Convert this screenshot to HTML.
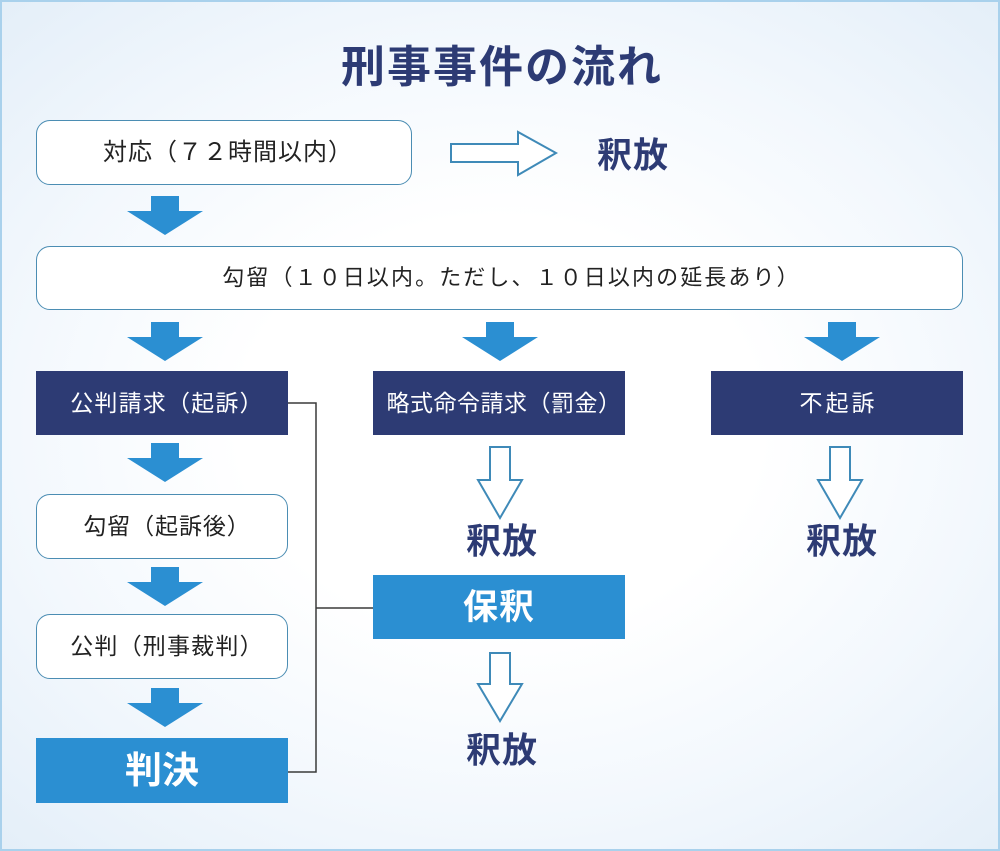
<!DOCTYPE html>
<html lang="ja">
<head>
<meta charset="utf-8">
<style>
html,body{margin:0;padding:0;}
body{width:1000px;height:851px;overflow:hidden;position:relative;font-family:"Liberation Sans","Noto Sans CJK JP",sans-serif;}
.frame{position:absolute;left:0;top:0;width:1000px;height:851px;box-sizing:border-box;border:2px solid #a9d1ec;
background:radial-gradient(ellipse 75% 70% at 50% 50%, #ffffff 35%, #f3f8fd 65%, #e3eef8 100%);}
.box{position:absolute;box-sizing:border-box;display:flex;align-items:center;justify-content:center;white-space:nowrap;line-height:1;}
.r{background:#fff;border:1.5px solid #4b8db3;border-radius:14px;color:#222;font-weight:400;}
.n{background:#2d3b74;color:#fff;font-weight:400;}
.b{background:#2b8fd2;color:#fff;font-weight:bold;}
.lbl{position:absolute;line-height:1;white-space:nowrap;font-weight:bold;color:#2d3b74;transform:translate(-50%,-50%);}
svg{position:absolute;left:0;top:0;}
</style>
</head>
<body>
<div class="frame"></div>

<div class="lbl" style="left:502px;top:68px;font-size:44px;letter-spacing:2px;">刑事事件の流れ</div>

<div class="box r" style="left:36px;top:120px;width:376px;height:65px;font-size:24px;letter-spacing:1px;padding-left:8px;">対応（７２時間以内）</div>
<div class="lbl" style="left:633px;top:156px;font-size:35px;letter-spacing:1px;">釈放</div>

<div class="box r" style="left:36px;top:246px;width:927px;height:64px;font-size:22px;letter-spacing:2.1px;padding-left:24px;">勾留（１０日以内。ただし、１０日以内の延長あり）</div>

<div class="box n" style="left:36px;top:371px;width:252px;height:64px;font-size:23px;letter-spacing:1.2px;padding-left:10px;">公判請求（起訴）</div>
<div class="box n" style="left:373px;top:371px;width:252px;height:64px;font-size:23px;letter-spacing:0.5px;padding-left:10px;">略式命令請求（罰金）</div>
<div class="box n" style="left:711px;top:371px;width:252px;height:64px;font-size:23px;letter-spacing:3px;padding-left:3px;">不起訴</div>

<div class="box r" style="left:36px;top:494px;width:252px;height:65px;font-size:23px;letter-spacing:0.9px;padding-left:10px;">勾留（起訴後）</div>
<div class="box r" style="left:36px;top:614px;width:252px;height:65px;font-size:23px;letter-spacing:1.2px;padding-left:10px;">公判（刑事裁判）</div>
<div class="box b" style="left:36px;top:738px;width:252px;height:65px;font-size:37px;letter-spacing:0px;">判決</div>

<div class="box b" style="left:373px;top:575px;width:252px;height:64px;font-size:35px;letter-spacing:1px;">保釈</div>

<div class="lbl" style="left:502px;top:542px;font-size:35px;letter-spacing:1px;">釈放</div>
<div class="lbl" style="left:842px;top:542px;font-size:35px;letter-spacing:1px;">釈放</div>
<div class="lbl" style="left:502px;top:751px;font-size:35px;letter-spacing:1px;">釈放</div>

<svg width="1000" height="851" viewBox="0 0 1000 851">
  <g fill="#2b8fd2">
    <polygon points="151,196 179,196 179,211 203,211 165,235 127,211 151,211"/>
    <polygon points="151,322 179,322 179,337 203,337 165,361 127,337 151,337"/>
    <polygon points="486,322 514,322 514,337 538,337 500,361 462,337 486,337"/>
    <polygon points="828,322 856,322 856,337 880,337 842,361 804,337 828,337"/>
    <polygon points="151,443 179,443 179,458 203,458 165,482 127,458 151,458"/>
    <polygon points="151,567 179,567 179,582 203,582 165,606 127,582 151,582"/>
    <polygon points="151,688 179,688 179,703 203,703 165,727 127,703 151,703"/>
  </g>
  <g fill="#ffffff" stroke="#3f8ab8" stroke-width="2" stroke-linejoin="miter">
    <polygon points="451,144 518,144 518,132 556,153 518,175 518,162 451,162"/>
    <polygon points="490,447 510,447 510,480 522,480 500,518 478,480 490,480"/>
    <polygon points="830,447 850,447 850,480 862,480 840,518 818,480 830,480"/>
    <polygon points="490,653 510,653 510,684 522,684 500,721 478,684 490,684"/>
  </g>
  <g fill="none" stroke="#3a3a3a" stroke-width="1.5">
    <polyline points="288,403 316,403 316,772 288,772"/>
    <line x1="316" y1="608" x2="373" y2="608"/>
  </g>
</svg>
</body>
</html>
